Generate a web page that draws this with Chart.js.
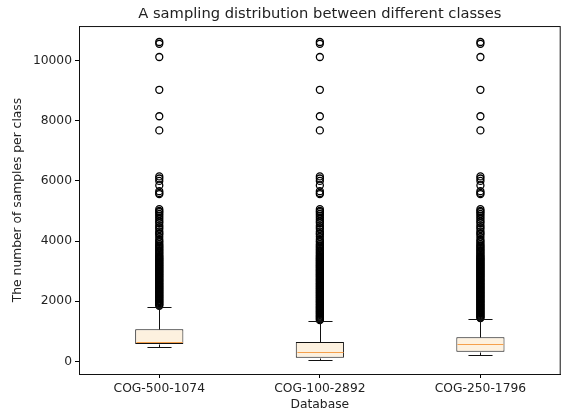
<!DOCTYPE html>
<html>
<head>
<meta charset="utf-8">
<script src="https://cdn.jsdelivr.net/npm/chart.js@4"></script>
<style>
  html, body { margin: 0; padding: 0; background: #fff; }
  #wrap { width: 566px; height: 414px; }
</style>
</head>
<body>
<div id="wrap"><canvas id="boxChart" width="566" height="414"></canvas></div>
<script>
const classes = ["COG-500-1074", "COG-100-2892", "COG-250-1796"];

// box statistics
const whiskerLow = [480, 60, 200];
const q1 = [580, 120, 320];
const median = [650, 300, 570];
const q3 = [1070, 640, 800];
const whiskerHigh = [1800, 1350, 1420];

const yTicks = [0, 2000, 4000, 6000, 8000, 10000];

// fliers, the upper cloud looks the same in all three columns
const outliersHigh = [10620, 10560, 10120, 9030, 8150, 7680, 6150, 6080, 6000, 5850,
  5660, 5600, 5560, 5060, 5000, 4960, 4900, 4840, 4780, 4720, 4650, 4600, 4520, 4460,
  4400, 4320, 4260, 4220, 4140, 4060, 4000, 3960, 3900, 3860, 3820, 3780, 3740, 3700,
  3660, 3620, 3580, 3540, 3500, 3470, 3440, 3410, 3380, 3350, 3320, 3290, 3260, 3230,
  3200, 3170, 3140, 3110, 3080, 3050, 3020, 2990, 2960, 2930, 2900, 2870, 2840, 2810,
  2780, 2750, 2720, 2690, 2660, 2630, 2600, 2570, 2540, 2510, 2480, 2450, 2420, 2390,
  2360, 2330, 2300, 2270, 2240, 2210, 2180, 2150, 2120, 2090, 2060, 2030, 2000, 1970,
  1940, 1910, 1880, 1850];
const outliersLow100 = [1820, 1790, 1760, 1730, 1700, 1670, 1640, 1610, 1580, 1550,
  1520, 1490, 1460, 1430, 1400, 1370];
const outliersLow250 = [1820, 1790, 1760, 1730, 1700, 1670, 1640, 1610, 1580, 1550,
  1520, 1490, 1460, 1440];

document.addEventListener("DOMContentLoaded", () => {
  const FONT = "'DejaVu Sans', 'Liberation Sans', sans-serif";
  const TEXT = "#222";

  const fliers = [outliersHigh, outliersHigh.concat(outliersLow100), outliersHigh.concat(outliersLow250)];
  const flierPoints = [];
  classes.forEach((c, i) => {
    fliers[i].forEach(v => flierPoints.push({ x: c, y: v }));
  });

  // whiskers, caps, medians and the top/right frame
  const boxPlugin = {
    id: "boxWhiskers",
    afterDatasetsDraw(chart) {
      const { ctx, chartArea, scales: { x, y } } = chart;
      const step = x.getPixelForValue(1) - x.getPixelForValue(0);
      const capHalf = step * 0.075;
      const boxHalf = step * 0.15;
      const px = v => Math.round(y.getPixelForValue(v)) + 0.5;

      ctx.save();
      ctx.lineWidth = 1;
      classes.forEach((c, i) => {
        const cx = Math.round(x.getPixelForValue(i)) + 0.5;

        ctx.strokeStyle = "#111";
        ctx.beginPath();
        ctx.moveTo(cx, px(q3[i]));
        ctx.lineTo(cx, px(whiskerHigh[i]));
        ctx.moveTo(cx, px(q1[i]));
        ctx.lineTo(cx, px(whiskerLow[i]));
        ctx.moveTo(cx - capHalf, px(whiskerHigh[i]));
        ctx.lineTo(cx + capHalf, px(whiskerHigh[i]));
        ctx.moveTo(cx - capHalf, px(whiskerLow[i]));
        ctx.lineTo(cx + capHalf, px(whiskerLow[i]));
        ctx.stroke();

        ctx.strokeStyle = "#f5a04c";
        ctx.beginPath();
        ctx.moveTo(cx - boxHalf + 1, px(median[i]));
        ctx.lineTo(cx + boxHalf - 1, px(median[i]));
        ctx.stroke();
      });

      ctx.strokeStyle = "#111";
      ctx.strokeRect(chartArea.left + 0.5, chartArea.top + 0.5,
        chartArea.right - chartArea.left - 1, chartArea.bottom - chartArea.top);
      ctx.restore();
    }
  };

  new Chart(document.getElementById("boxChart"), {
    type: "bar",
    data: {
      labels: classes,
      datasets: [
        {
          type: "line",
          label: "outliers",
          data: flierPoints,
          showLine: false,
          pointStyle: "circle",
          pointRadius: 3.5,
          pointBorderWidth: 1.3,
          pointBorderColor: "#000",
          pointBackgroundColor: "rgba(0,0,0,0)",
          order: 1
        },
        {
          label: "box",
          data: classes.map((c, i) => [q1[i], q3[i]]),
          backgroundColor: "#fdf1df",
          borderColor: "#111",
          borderWidth: 1,
          borderSkipped: false,
          barPercentage: 0.3,
          categoryPercentage: 1,
          order: 2
        }
      ]
    },
    options: {
      responsive: false,
      animation: false,
      devicePixelRatio: 1,
      layout: { padding: { left: 6, right: 5, top: 0, bottom: 0 } },
      plugins: {
        legend: { display: false },
        tooltip: { enabled: false },
        title: {
          display: true,
          text: "A sampling distribution between different classes",
          fullSize: false,
          color: TEXT,
          font: { family: FONT, size: 14.7, weight: "normal" },
          padding: { top: 5, bottom: 3.4 }
        }
      },
      scales: {
        x: {
          type: "category",
          offset: true,
          afterFit(scale) { scale.height = 40; },
          grid: { drawOnChartArea: false, offset: false, tickLength: 4, tickColor: "#000" },
          border: { display: true, color: "#111" },
          ticks: { color: TEXT, font: { family: FONT, size: 12.3 }, padding: 3.6, maxRotation: 0 },
          title: {
            display: true,
            text: "Database",
            color: TEXT,
            font: { family: FONT, size: 12.3 },
            padding: { top: 0, bottom: 1.6 }
          }
        },
        y: {
          type: "linear",
          min: -420,
          max: 11150,
          afterFit(scale) { scale.width = 73; },
          afterBuildTicks(scale) { scale.ticks = yTicks.map(v => ({ value: v })); },
          grid: { drawOnChartArea: false, tickLength: 4, tickColor: "#000" },
          border: { display: true, color: "#111" },
          ticks: {
            color: TEXT,
            font: { family: FONT, size: 12.3 },
            padding: 3,
            callback: v => String(v)
          },
          title: {
            display: true,
            text: "The number of samples per class",
            color: TEXT,
            font: { family: FONT, size: 12.3 },
            padding: { top: 4, bottom: 0 }
          }
        }
      }
    },
    plugins: [boxPlugin]
  });
});
</script>
</body>
</html>
